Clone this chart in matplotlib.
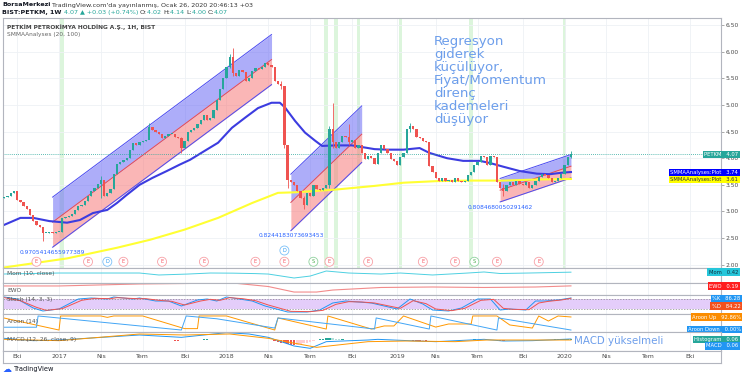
import numpy as np
import pandas as pd
import matplotlib
matplotlib.use("Agg")
import matplotlib.pyplot as plt

# ---- weekly candles BIST:PETKM (close of each week), last bar 2020-01-20
closes = [
    3.28, 3.30, 3.35, 3.38, 3.22, 3.18, 3.10, 3.05, 2.93, 2.82,
    2.75, 2.70, 2.60, 2.60, 2.62, 2.60, 2.62, 2.62, 2.88, 2.90,
    2.92, 2.95, 3.02, 3.10, 3.12, 3.20, 3.30, 3.38, 3.45, 3.52,
    3.60, 3.30, 3.35, 3.42, 3.70, 3.90, 3.92, 3.97, 4.00, 4.15,
    4.29, 4.25, 4.30, 4.33, 4.35, 4.58, 4.52, 4.50, 4.45, 4.38,
    4.42, 4.45, 4.46, 4.40, 4.38, 4.20, 4.32, 4.50, 4.52, 4.57,
    4.65, 4.72, 4.81, 4.72, 4.75, 4.90, 5.10, 5.30, 5.50, 5.72,
    5.90, 5.60, 5.55, 5.65, 5.62, 5.45, 5.50, 5.63, 5.70, 5.68,
    5.72, 5.78, 5.75, 5.72, 5.45, 5.40, 5.35, 4.25, 3.60, 3.55,
    3.50, 3.39, 3.26, 3.12, 3.35, 3.30, 3.50, 3.42, 3.40, 3.45,
    3.50, 4.55, 4.30, 4.20, 4.30, 4.42, 4.40, 4.30, 4.35, 4.20,
    4.25, 4.10, 3.98, 4.05, 4.00, 3.90, 4.10, 4.25, 4.18, 4.10,
    3.98, 3.95, 3.88, 4.02, 4.10, 4.55, 4.60, 4.55, 4.40, 4.38,
    4.32, 4.30, 3.85, 3.75, 3.62, 3.58, 3.62, 3.58, 3.60, 3.55,
    3.62, 3.58, 3.55, 3.58, 3.68, 3.75, 3.87, 3.92, 4.05, 4.02,
    3.88, 4.05, 4.02, 3.55, 3.45, 3.38, 3.50, 3.55, 3.50, 3.58,
    3.52, 3.50, 3.55, 3.45, 3.50, 3.58, 3.65, 3.70, 3.68, 3.62,
    3.55, 3.58, 3.62, 3.70, 3.88, 4.02, 4.07,
]
first_open = 3.25
wick_idx = [12, 30, 45, 55, 70, 71, 86, 87, 88, 93, 101, 102, 107, 126, 155, 176]
wick_hi = [2.62, 3.66, 4.66, 4.40, 5.95, 6.07, 5.45, 5.36, 4.25, 3.30, 4.60, 5.04, 4.65, 4.66, 3.52, 4.14]
wick_lo = [2.45, 3.25, 4.50, 4.10, 5.70, 5.55, 5.30, 4.20, 3.45, 3.05, 3.45, 4.20, 4.25, 4.50, 3.30, 4.00]

# SMMAAnalyses (20, 100)
ma_fast_idx = [0, 5, 9, 14, 19.5, 23.5, 27.5, 32, 35, 38, 42, 46, 50.5, 54.5, 57.7, 62.3, 66.4,
               70.7, 74.8, 78.8, 83, 85.6, 87.2, 90.3, 93.4, 96.5, 98.7, 102.7, 108, 111, 115,
               119, 124, 129, 132, 137.5, 142.5, 147.7, 150.8, 155, 160, 165.4, 169.5, 173.5, 176]
ma_fast = [2.75, 2.88, 2.88, 2.82, 2.79, 2.84, 2.97, 3.03, 3.16, 3.31, 3.50, 3.63, 3.76, 3.88,
           3.97, 4.14, 4.29, 4.57, 4.76, 4.94, 5.04, 5.04, 4.95, 4.70, 4.48, 4.33, 4.23, 4.24,
           4.24, 4.21, 4.17, 4.16, 4.16, 4.19, 4.10, 4.00, 3.95, 3.95, 3.91, 3.84, 3.76, 3.71,
           3.70, 3.73, 3.74]
ma_slow_idx = [0, 19.5, 35, 45.3, 56, 66.4, 77, 85, 90.3, 102.7, 115, 124, 134.4, 144.6, 155, 165.4, 176]
ma_slow = [1.95, 2.12, 2.32, 2.47, 2.66, 2.88, 3.16, 3.35, 3.36, 3.41, 3.48, 3.54, 3.57, 3.58,
           3.58, 3.60, 3.61]

# regression channels
chan_start = [15, 89, 154]
chan_end = [83, 111, 176]
chan_mid0 = [2.80, 3.17, 3.40]
chan_mid1 = [5.85, 4.45, 3.85]
chan_half = [0.47, 0.53, 0.22]
chan_r = ["0.9705414655977389", "0.8244183073693453", "0.8084680050291462"]

highlight_idx = [18, 100, 103, 110, 123, 145, 174]
event_idx = [10, 26, 37, 49, 62, 78, 87, 101, 113, 130, 140, 153, 166]
split_idx = [96, 146]
div_idx = [32]
div_hi_idx = [87]

# indicators
mom_idx = [0, 17, 42, 48, 57, 64, 71, 78, 82, 90, 95, 100, 107, 117, 123, 133, 144, 149, 154, 163, 176]
mom = [0.01, 0.23, 0.23, -0.21, 0.0, 0.23, 0.2, 0.1, 0.0, -0.88, -0.45, 0.68, 0.23, 0.0, 0.23,
       -0.21, 0.23, 0.46, 0.12, 0.23, 0.42]
ewo_idx = [0, 17, 42, 57, 71, 82, 90, 97, 102, 117, 133, 149, 165, 176]
ewo = [0.18, 0.18, 0.43, 0.49, 0.55, 0.11, -0.58, -0.58, -0.33, -0.01, 0.05, -0.01, 0.05, 0.19]
stk_idx = [0, 4, 9, 12, 17, 23, 27, 32, 34, 40, 42, 47, 51, 55, 60, 63, 66, 69, 73, 77, 81, 88,
           94, 98, 102, 106, 110, 114, 118, 122, 126, 130, 133, 138, 142, 147, 151, 154, 157,
           162, 165, 168, 172, 176]
stoch_k = [92, 80, 26, 8, 20, 80, 86, 80, 92, 80, 86, 68, 68, 38, 74, 80, 68, 92, 80, 68, 38, 2,
           2, 14, 56, 68, 62, 56, 38, 20, 80, 50, 14, 8, 26, 80, 80, 14, 20, 14, 68, 68, 74, 86.28]
std_idx = [0, 5, 10, 13, 18, 24, 28, 33, 35, 41, 44, 48, 52, 56, 61, 64, 67, 70, 74, 78, 82, 89,
           95, 99, 103, 107, 111, 115, 119, 123, 127, 131, 134, 139, 143, 148, 152, 155, 158,
           163, 166, 169, 173, 176]
stoch_d = [88, 70, 30, 12, 22, 72, 84, 82, 88, 82, 82, 72, 66, 44, 68, 78, 72, 88, 82, 70, 44, 6,
           4, 12, 48, 64, 62, 56, 40, 24, 70, 52, 20, 10, 24, 72, 78, 24, 18, 16, 56, 66, 74, 84.22]
up_idx = [0, 17, 17.5, 30, 32, 34, 43, 56, 60, 60.5, 69, 84, 85, 100, 100.5, 114, 118, 121, 124,
          134, 138, 145, 145.5, 153, 157, 164, 166, 169, 172, 176]
aroon_up = [85, 0, 100, 100, 90, 100, 100, 10, 10, 100, 100, 0, 86, 7, 100, 7, 29, 29, 100, 21,
            43, 43, 100, 100, 36, 14, 100, 64, 100, 92.86]
dn_idx = [0, 10, 10.5, 55, 56.5, 66, 84, 85, 115, 115.5, 132, 132.5, 153, 153.5, 176]
aroon_dn = [20, 20, 100, 0, 100, 80, 14, 86, 7, 86, 7, 100, 0, 86, 0]
macd_idx = [0, 9, 17, 42, 55, 69, 76, 82, 90, 95, 100, 113, 116, 128, 134, 149, 155, 164, 176]
macd = [0.1, -0.04, 0.0, 0.3, 0.16, 0.44, 0.36, 0.16, -0.36, -0.5, -0.1, 0.0, 0.04, -0.06, -0.1,
        0.04, -0.06, -0.04, 0.06]
sig_idx = [0, 17, 42, 56, 70, 82, 97, 113, 125, 140, 150, 176]
signal = [0.04, -0.04, 0.36, 0.3, 0.36, 0.1, -0.44, -0.1, -0.06, -0.1, 0.0, 0.0]
hist_start = [7, 33, 52, 60, 84, 97, 105, 126, 144, 152, 165]
hist_vals = [
    [-0.03, -0.04, -0.04, -0.03, -0.02, -0.01],
    [0.02, 0.03, 0.03, 0.02, 0.02, 0.01, 0.01, 0.01],
    [-0.02, -0.03, -0.03, -0.02, -0.01, -0.01],
    [0.02, 0.03, 0.04, 0.04, 0.03, 0.03, 0.02, 0.02, 0.01],
    [-0.05, -0.10, -0.15, -0.20, -0.24, -0.27, -0.30, -0.28, -0.25, -0.20, -0.15, -0.10, -0.06],
    [0.03, 0.06, 0.09, 0.12, 0.13, 0.11, 0.08, 0.05],
    [0.04, 0.03, 0.02, 0.02, 0.01, 0.01, 0.0, 0.0],
    [-0.02, -0.03, -0.04, -0.04, -0.03, -0.03, -0.02, -0.02, -0.01],
    [0.02, 0.03, 0.04, 0.03, 0.03, 0.02, 0.01, 0.01],
    [-0.01, -0.02, -0.03, -0.03, -0.02, -0.02, -0.01],
    [0.01, 0.02, 0.02, 0.03, 0.03, 0.03, 0.04, 0.04, 0.05, 0.05, 0.06, 0.06],
]

tick_dates = ["2016-10-01", "2017-01-01", "2017-04-01", "2017-07-01", "2017-10-01", "2018-01-01",
              "2018-04-01", "2018-07-01", "2018-10-01", "2019-01-01", "2019-04-01", "2019-07-01",
              "2019-10-01", "2020-01-01", "2020-04-01", "2020-07-01", "2020-10-01"]
tick_names = ["Eki", "2017", "Nis", "Tem", "Eki", "2018", "Nis", "Tem", "Eki", "2019", "Nis",
              "Tem", "Eki", "2020", "Nis", "Tem", "Eki"]

# ---- derived
n = len(closes)
dates = pd.date_range(end=pd.Timestamp("2020-01-20"), periods=n, freq="7D")
x = np.arange(n)
c = np.array(closes)
o = np.array([first_open] + closes[:-1])
tick_pos = [int(np.ceil((pd.Timestamp(d) - dates[0]).days / 7)) for d in tick_dates]

UP, DN = "#26a69a", "#ef5350"
GRID = "#eef1f5"
BORDER = "#b2b5be"
XL = (-0.4, 222.6)

fig = plt.figure(figsize=(7.5, 3.78), dpi=100)


def pane(top, bottom):
    ax = fig.add_axes([3 / 750, 1 - bottom / 378, 718 / 750, (bottom - top) / 378])
    ax.set_xlim(*XL)
    ax.set_xticks(tick_pos)
    ax.tick_params(axis="x", length=0, labelbottom=False)
    ax.grid(axis="x", color=GRID, lw=0.6)
    ax.set_axisbelow(True)
    for s in ax.spines.values():
        s.set_color(BORDER)
        s.set_linewidth(0.8)
    return ax


def tag(ax, y, text, fc, tc="white", right=1.024, trans=None):
    ax.annotate(text, xy=(right, y), xycoords=trans or ax.get_yaxis_transform(),
                ha="right", va="center", fontsize=3.8, color=tc, annotation_clip=False,
                bbox=dict(boxstyle="square,pad=0.25", fc=fc, ec="none"))


def marker(ax, i, yfrac, letter, tc, ec):
    ax.text(i, yfrac, letter, transform=ax.get_xaxis_transform(), fontsize=3.6, color=tc,
            ha="center", va="center", zorder=4,
            bbox=dict(boxstyle="circle,pad=0.4", fc="white", ec=ec, lw=0.6))


# ---- main pane
ax = pane(18, 268)
ax.set_ylim(1.94, 6.63)
ax.set_yticks(np.arange(2.0, 6.51, 0.5))
ax.yaxis.tick_right()
ax.tick_params(axis="y", labelsize=4.3, labelcolor="#4a4a4a", length=2, width=0.5, color="#888", pad=1.5)
ax.yaxis.set_major_formatter(matplotlib.ticker.FormatStrFormatter("%.2f"))
ax.grid(axis="y", color=GRID, lw=0.6)

for i in highlight_idx:
    ax.axvspan(i - 0.55, i + 0.55, color="#dcf5dc", zorder=0.5, lw=0)

for s, e, m0, m1, h, r in zip(chan_start, chan_end, chan_mid0, chan_mid1, chan_half, chan_r):
    xs = [s, e]
    mid = np.array([m0, m1])
    ax.fill_between(xs, mid, mid + h, color="#6a6af5", alpha=0.55, lw=0, zorder=1)
    ax.fill_between(xs, mid - h, mid, color="#f77a7a", alpha=0.55, lw=0, zorder=1)
    ax.plot(xs, mid + h, color="#4a4af0", lw=0.7, zorder=1.2)
    ax.plot(xs, mid - h, color="#4a4af0", lw=0.7, zorder=1.2)
    ax.plot(xs, mid, color="#f04a4a", lw=0.7, zorder=1.2)
    ax.text(s, m0 - h - 0.05, r, fontsize=4.2, color="#2962ff", ha="center", va="top")

ax.plot(ma_slow_idx, ma_slow, color="#ffff33", lw=1.5, zorder=2)
ax.plot(ma_fast_idx, ma_fast, color="#3c3ce0", lw=1.5, zorder=2)

col = np.where(c >= o, UP, DN)
wl, wh = np.minimum(o, c), np.maximum(o, c)
for i, hi, lo in zip(wick_idx, wick_hi, wick_lo):
    wl[i], wh[i] = lo, hi
ax.vlines(x, wl, wh, colors=col, lw=0.6, zorder=3)
ax.bar(x, np.maximum(np.abs(c - o), 0.015), bottom=np.minimum(o, c), width=0.7, color=col, zorder=3)
ax.axhline(closes[-1], color=UP, lw=0.6, ls=(0, (1, 1.5)), zorder=2.5)

for i in event_idx:
    marker(ax, i, 0.025, "E", "#f7525f", "#f7a0a6")
for i in split_idx:
    marker(ax, i, 0.025, "S", "#4caf50", "#8fd19e")
for i in div_idx:
    marker(ax, i, 0.025, "D", "#2196f3", "#7cc0f7")
for i in div_hi_idx:
    marker(ax, i, 0.07, "D", "#2196f3", "#7cc0f7")

ax.text(0.006, 0.976, "PETKİM PETROKİMYA HOLDİNG A.Ş., 1H, BIST", transform=ax.transAxes,
        fontsize=4.2, color="#444", va="top", fontweight="bold")
ax.text(0.006, 0.945, "SMMAAnalyses (20, 100)", transform=ax.transAxes, fontsize=4.2,
        color="#666", va="top")
ax.text(0.6, 0.93, "Regresyon\ngiderek\nküçülüyor,\nFiyat/Momentum\ndirenç\nkademeleri\ndüşüyor",
        transform=ax.transAxes, fontsize=9.6, color="#6d9eeb", va="top", ha="left", linespacing=0.99)

tag(ax, closes[-1], "PETKM   4.07", UP)
tag(ax, ma_fast[-1] - 0.01, "SMMAAnalyses:Plot   3.74", "#0000ff")
tag(ax, ma_slow[-1] - 0.01, "SMMAAnalyses:Plot   3.61", "#ffff00", tc="#333")

# ---- indicator panes
lab = dict(fontsize=4.2, color="#555", va="center", ha="left")

a1 = pane(268, 283)
a1.set_ylim(-2.0, 1.35)
a1.set_yticks([])
a1.plot(mom_idx, mom, color="#4dd0e1", lw=0.7)
a1.text(0.006, 0.62, "Mom (10, close)", transform=a1.transAxes, **lab)
tag(a1, 0.73, "Mom   0.42", "#26c6da", tc="#134", trans=a1.transAxes)

a2 = pane(283, 295)
a2.set_ylim(-0.95, 0.55)
a2.set_yticks([])
a2.plot(ewo_idx, ewo, color="#f28b8b", lw=0.8)
a2.text(0.006, 0.4, "EWO", transform=a2.transAxes, **lab)
tag(a2, 0.75, "EWO   0.19", "#ff1e1e", trans=a2.transAxes)

a3 = pane(295, 314)
a3.set_ylim(-10, 104)
a3.set_yticks([])
a3.axhspan(20, 80, color="#e4cdfa", lw=0)
a3.axhline(80, color="#888", lw=0.5, ls=(0, (2, 2)))
a3.axhline(20, color="#888", lw=0.5, ls=(0, (2, 2)))
a3.plot(stk_idx, stoch_k, color="#2196f3", lw=0.7)
a3.plot(std_idx, stoch_d, color="#ef5350", lw=0.7)
a3.text(0.006, 0.74, "Stoch (14, 3, 3)", transform=a3.transAxes, **lab)
tag(a3, 0.80, "%K   86.28", "#2196f3", right=1.027, trans=a3.transAxes)
tag(a3, 0.42, "%D   84.22", "#f4511e", right=1.027, trans=a3.transAxes)

a4 = pane(314, 332)
a4.set_ylim(-14, 114)
a4.set_yticks([])
a4.plot(up_idx, aroon_up, color="#ff9800", lw=0.7)
a4.plot(dn_idx, aroon_dn, color="#42a5f5", lw=0.7)
a4.text(0.006, 0.6, "Aroon (14)", transform=a4.transAxes, **lab)
tag(a4, 0.83, "Aroon Up   92.86%", "#fb8c00", right=1.028, trans=a4.transAxes)
tag(a4, 0.14, "Aroon Down   0.00%", "#2196f3", right=1.028, trans=a4.transAxes)

a5 = pane(332, 351)
a5.set_ylim(-0.66, 0.48)
a5.set_yticks([])
for s, vals in zip(hist_start, hist_vals):
    prev = 0.0
    for k, v in enumerate(vals):
        if v >= 0:
            hc = "#26a69a" if v >= prev else "#b2dfdb"
        else:
            hc = "#ef5350" if v <= prev else "#ffcdd2"
        a5.bar(s + k, v, width=0.8, color=hc, lw=0)
        prev = v
a5.plot(macd_idx, macd, color="#2196f3", lw=0.7)
a5.plot(sig_idx, signal, color="#ff9800", lw=0.7)
a5.text(0.006, 0.6, "MACD (12, 26, close, 9)", transform=a5.transAxes, **lab)
a5.text(0.795, 0.52, "MACD yükselmeli", transform=a5.transAxes, fontsize=7.4, color="#6d9eeb",
        va="center", ha="left")
tag(a5, 0.6, "Histogram   0.06", "#26a69a", trans=a5.transAxes)
tag(a5, 0.27, "MACD   0.06", "#2196f3", trans=a5.transAxes)

# ---- time scale
at = pane(351, 363)
at.set_ylim(0, 1)
at.set_yticks([])
at.grid(False)
for p, name in zip(tick_pos, tick_names):
    at.text(p, 0.5, name, fontsize=4.5, color="#4a4a4a", ha="center", va="center")

# ---- header and footer
rend = fig.canvas.get_renderer()


def run_text(x_px, y_px, parts, size):
    xp = x_px
    for s, cc, w in parts:
        t = fig.text(xp / 750, 1 - y_px / 378, s, color=cc, fontsize=size, fontweight=w,
                     va="center", ha="left")
        xp += t.get_window_extent(renderer=rend).width


run_text(2, 5, [("BorsaMerkezi", "#131722", "bold"),
                (" TradingView.com'da yayınlanmış, Ocak 26, 2020 20:46:13 +03", "#333", "normal")], 4.6)
run_text(2, 12.5, [("BIST:PETKM, 1W ", "#131722", "bold"), ("4.07 ▲ +0.03 (+0.74%) ", UP, "normal"),
                   ("O:", "#333", "normal"), ("4.02 ", UP, "normal"), ("H:", "#333", "normal"),
                   ("4.14 ", UP, "normal"), ("L:", "#333", "normal"), ("4.00 ", UP, "normal"),
                   ("C:", "#333", "normal"), ("4.07", UP, "normal")], 4.6)
fig.text(3 / 750, 1 - 369 / 378, "☁", color="#2962ff", fontsize=6.5, va="center")
fig.text(14 / 750, 1 - 369 / 378, "TradingView", color="#131722", fontsize=4.8, va="center")

fig.savefig("out.png", dpi=100)
